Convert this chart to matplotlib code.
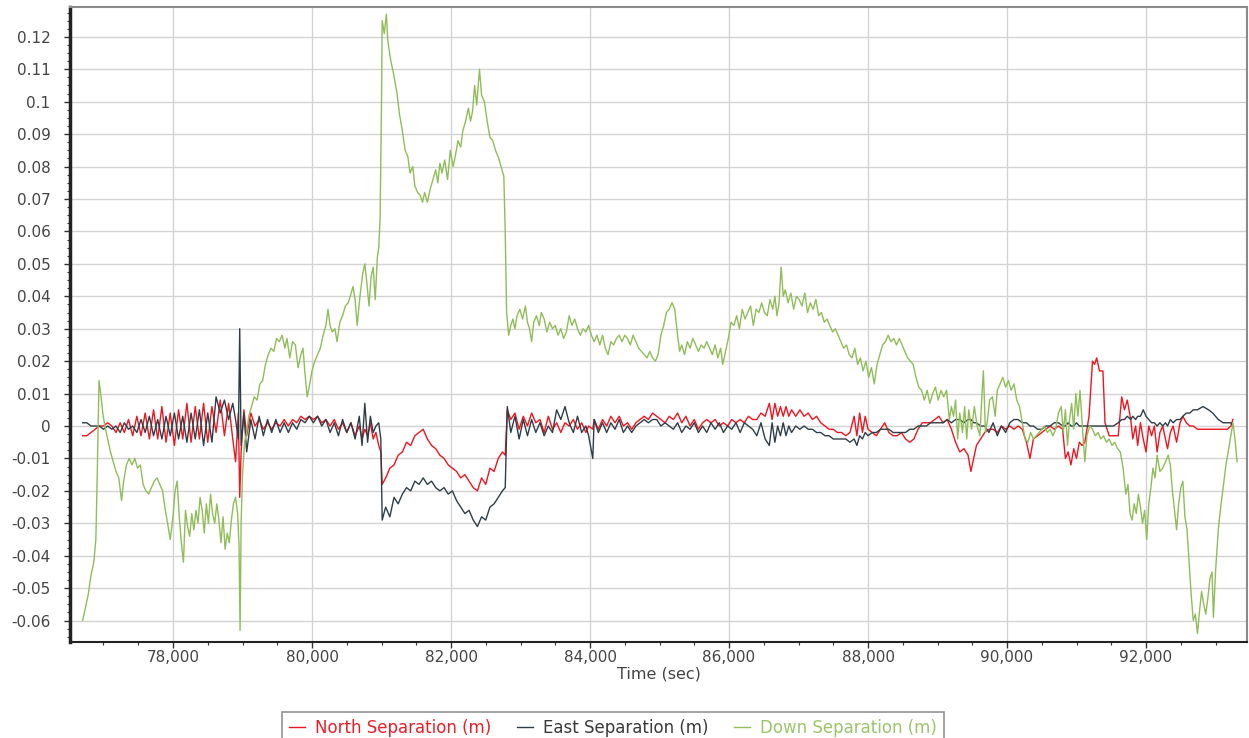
import matplotlib
matplotlib.use("Agg")
import matplotlib.pyplot as plt
from matplotlib.ticker import MultipleLocator, FuncFormatter

# ---------------- data ----------------
ne_time = [
    76700, 76760, 76820, 76880, 76940, 77000, 77060, 77120, 77180, 77240,
    77300, 77360, 77420, 77480, 77540, 77600, 77660, 77720, 77780, 77840,
    77900, 77960, 78020, 78080, 78140, 78200, 78260, 78320, 78380, 78440,
    78500, 78560, 78620, 78680, 78740, 78800, 78860, 78900, 78940, 78960,
    78980, 79020, 79060, 79120, 79180, 79240, 79300, 79360, 79420, 79480,
    79540, 79600, 79660, 79720, 79780, 79840, 79900, 79960, 80020, 80080,
    80140, 80200, 80260, 80320, 80380, 80440, 80500, 80560, 80620, 80680,
    80720, 80760, 80800, 80840, 80880, 80920, 80960, 80990, 81010, 81060,
    81120, 81180, 81240, 81300, 81360, 81420, 81480, 81540, 81600, 81660,
    81720, 81780, 81840, 81900, 81960, 82020, 82080, 82140, 82200, 82260,
    82320, 82380, 82440, 82500, 82560, 82620, 82680, 82740, 82780, 82810,
    82860, 82920, 82980, 83040, 83100, 83160, 83220, 83280, 83340, 83400,
    83460, 83520, 83580, 83640, 83700, 83760, 83820, 83880, 83940, 83980,
    84040, 84060, 84120, 84180, 84240, 84300, 84360, 84420, 84480, 84540,
    84600, 84660, 84720, 84780, 84840, 84900, 84960, 85020, 85080, 85140,
    85200, 85260, 85320, 85380, 85440, 85500, 85560, 85620, 85680, 85740,
    85800, 85860, 85920, 85980, 86040, 86100, 86160, 86220, 86280, 86340,
    86400, 86460, 86520, 86580, 86620, 86660, 86700, 86740, 86780, 86820,
    86860, 86900, 86960, 87020, 87080, 87140, 87200, 87260, 87320, 87380,
    87440, 87500, 87560, 87620, 87680, 87740, 87800, 87840, 87880, 87920,
    87960, 88000, 88060, 88120, 88180, 88240, 88300, 88360, 88420, 88480,
    88540, 88600, 88660, 88720, 88780, 88840, 88900, 88960, 89020, 89080,
    89140, 89200, 89260, 89320, 89380, 89440, 89480, 89520, 89560, 89620,
    89680, 89740, 89800, 89860, 89920, 89980, 90040, 90100, 90160, 90220,
    90280, 90330, 90380, 90440, 90500, 90560, 90620, 90680, 90740, 90800,
    90840, 90880, 90920, 90960, 91000, 91040, 91080, 91120, 91180, 91230,
    91260, 91290, 91330, 91380, 91410, 91470, 91530, 91600, 91650, 91690,
    91730, 91780, 91810, 91850, 91880, 91920, 91960, 92000, 92040, 92080,
    92120, 92160, 92200, 92240, 92280, 92310, 92350, 92390, 92440, 92490,
    92530, 92580, 92630, 92680, 92740, 92820, 92900, 92960, 93040, 93110,
    93170, 93220, 93250,
]

north_sep = [
    -0.003, -0.003, -0.002, -0.001, 0.000, 0.000, 0.001, 0.000, -0.002, 0.001,
    -0.002, 0.002, -0.003, 0.003, -0.003, 0.004, -0.004, 0.005, -0.004, 0.006,
    -0.005, 0.004, -0.006, 0.005, -0.004, 0.007, -0.005, 0.006, -0.004, 0.007,
    -0.005, 0.006, -0.002, 0.008, -0.003, 0.007, -0.004, -0.011, 0.004, -0.022,
    -0.008, 0.005, -0.003, 0.004, 0.000, 0.002, -0.001, 0.001, -0.001, 0.001,
    0.000, 0.002, 0.000, 0.002, 0.001, 0.003, 0.002, 0.003, 0.002, 0.003,
    0.001, 0.002, 0.000, 0.002, -0.001, 0.001, -0.002, 0.001, -0.003, 0.000,
    -0.004, -0.001, -0.003, 0.001, -0.004, -0.002, -0.006, -0.008, -0.018, -0.016,
    -0.013, -0.012, -0.009, -0.008, -0.005, -0.006, -0.003, -0.002, -0.001, -0.004,
    -0.006, -0.007, -0.009, -0.010, -0.012, -0.013, -0.014, -0.016, -0.015, -0.017,
    -0.019, -0.020, -0.016, -0.018, -0.013, -0.014, -0.010, -0.008, -0.009, 0.005,
    0.002, 0.004, -0.001, 0.003, 0.000, 0.004, 0.001, 0.002, -0.002, 0.003,
    -0.001, 0.001, -0.002, 0.001, 0.000, 0.002, -0.001, 0.001, -0.002, 0.000,
    -0.001, 0.002, -0.001, 0.002, 0.000, 0.003, 0.001, 0.003, 0.000, 0.001,
    -0.001, 0.001, 0.002, 0.003, 0.002, 0.004, 0.003, 0.002, 0.001, 0.003,
    0.002, 0.004, 0.001, 0.003, 0.000, 0.002, -0.001, 0.001, 0.002, 0.001,
    0.002, 0.000, 0.001, 0.000, 0.002, 0.001, 0.002, 0.001, 0.003, 0.002,
    0.002, 0.004, 0.003, 0.007, 0.002, 0.007, 0.003, 0.006, 0.003, 0.006,
    0.003, 0.005, 0.003, 0.005, 0.003, 0.004, 0.002, 0.003, 0.001, 0.000,
    -0.001, -0.001, -0.002, -0.002, -0.003, -0.002, 0.003, -0.003, 0.004, -0.002,
    0.003, -0.001, -0.002, -0.003, -0.001, 0.001, -0.002, -0.003, -0.003, -0.002,
    -0.004, -0.005, -0.004, -0.001, 0.001, 0.001, 0.001, 0.002, 0.003, 0.001,
    0.002, -0.001, -0.005, -0.008, -0.007, -0.009, -0.014, -0.010, -0.006, -0.004,
    -0.002, -0.001, -0.001, -0.002, 0.000, -0.001, 0.000, -0.001, 0.000, -0.001,
    -0.005, -0.010, -0.004, -0.003, -0.002, -0.001, 0.000, -0.001, 0.000, -0.001,
    -0.010, -0.008, -0.012, -0.007, -0.010, -0.005, -0.006, -0.005, 0.003, 0.020,
    0.019, 0.021, 0.017, 0.017, 0.001, -0.003, -0.003, -0.003, 0.009, 0.005,
    0.008, 0.002, -0.004, 0.000, -0.006, 0.001, -0.004, -0.008, 0.000, -0.003,
    0.000, -0.008, -0.002, 0.000, -0.004, -0.007, -0.002, 0.000, -0.005, 0.001,
    0.003, 0.001, 0.000, 0.000, -0.001, -0.001, -0.001, -0.001, -0.001, -0.001,
    -0.001, 0.000, 0.002,
]

east_sep = [
    0.001, 0.001, 0.000, 0.000, 0.000, -0.001, 0.000, -0.001, 0.000, -0.002,
    0.001, -0.001, 0.000, -0.002, 0.002, -0.002, 0.003, -0.003, 0.002, -0.004,
    0.003, -0.003, 0.004, -0.004, 0.003, -0.005, 0.004, -0.004, 0.005, -0.006,
    0.004, -0.005, 0.009, 0.004, 0.008, 0.002, 0.007, 0.002, -0.004, 0.030,
    -0.006, 0.004, -0.008, 0.002, -0.004, 0.003, -0.003, 0.002, -0.002, 0.002,
    -0.002, 0.001, -0.002, 0.001, -0.001, 0.002, 0.001, 0.003, 0.001, 0.003,
    0.000, 0.002, -0.002, 0.001, -0.003, 0.002, -0.002, 0.001, -0.004, 0.003,
    -0.006, 0.007, -0.005, 0.003, -0.002, 0.000, 0.001, -0.004, -0.029, -0.025,
    -0.028, -0.022, -0.024, -0.021, -0.019, -0.020, -0.017, -0.018, -0.016, -0.018,
    -0.017, -0.019, -0.020, -0.019, -0.021, -0.020, -0.023, -0.025, -0.027, -0.026,
    -0.029, -0.031, -0.028, -0.029, -0.025, -0.024, -0.022, -0.020, -0.019, 0.006,
    -0.002, 0.003, -0.004, 0.002, -0.003, 0.002, -0.002, 0.001, -0.003, 0.000,
    -0.002, 0.005, 0.002, 0.006, 0.001, -0.002, 0.003, -0.002, 0.000, -0.003,
    -0.010, 0.002, -0.002, 0.001, -0.002, 0.001, -0.001, 0.002, -0.002, 0.000,
    -0.002, 0.000, 0.001, 0.002, 0.001, 0.002, 0.002, 0.000, 0.001, 0.000,
    -0.001, 0.001, -0.002, 0.000, -0.001, 0.001, -0.002, 0.000, -0.002, 0.001,
    -0.001, 0.001, -0.002, 0.000, -0.001, 0.001, -0.002, 0.001, 0.000, -0.001,
    -0.003, 0.001, -0.004, -0.006, 0.001, -0.005, 0.000, -0.003, 0.001, -0.003,
    0.000, -0.002, 0.000, -0.001, 0.000, -0.001, -0.001, -0.002, -0.002, -0.003,
    -0.003, -0.004, -0.004, -0.004, -0.004, -0.005, -0.004, -0.006, -0.003, -0.004,
    -0.002, -0.003, -0.002, -0.002, -0.001, -0.001, -0.001, -0.002, -0.002, -0.002,
    -0.002, -0.001, -0.001, 0.000, 0.000, 0.000, 0.001, 0.001, 0.001, 0.001,
    0.002, 0.001, 0.002, 0.002, 0.001, 0.002, 0.002, 0.001, 0.001, 0.000,
    0.000, -0.002, 0.001, -0.003, 0.000, -0.002, 0.001, 0.002, 0.002, 0.001,
    0.001, 0.000, 0.000, -0.001, -0.001, 0.000, 0.000, 0.001, 0.001, 0.000,
    0.000, 0.001, 0.000, 0.000, 0.001, 0.000, 0.000, 0.000, 0.000, 0.000,
    0.000, 0.000, 0.000, 0.000, 0.000, 0.000, 0.000, 0.001, 0.002, 0.002,
    0.003, 0.002, 0.003, 0.002, 0.003, 0.003, 0.005, 0.003, 0.002, 0.001,
    0.001, 0.000, 0.001, 0.000, 0.001, 0.000, 0.002, 0.001, 0.002, 0.002,
    0.003, 0.004, 0.004, 0.005, 0.005, 0.006, 0.005, 0.004, 0.002, 0.001,
    0.001, 0.001, 0.000,
]

down_time = [
    76700, 76740, 76780, 76820, 76860, 76890, 76910, 76935, 76960, 76990,
    77020, 77060, 77100, 77140, 77180, 77220, 77260, 77290, 77330, 77370,
    77410, 77450, 77490, 77530, 77570, 77610, 77650, 77690, 77730, 77770,
    77810, 77850, 77890, 77930, 77960, 78000, 78030, 78060, 78090, 78120,
    78150, 78180, 78210, 78240, 78270, 78300, 78330, 78360, 78390, 78420,
    78450, 78480, 78510, 78540, 78570, 78600, 78630, 78660, 78690, 78720,
    78750, 78780, 78810, 78840, 78870, 78900, 78930, 78950, 78965, 78980,
    79000, 79030, 79060, 79090, 79130, 79170, 79210, 79250, 79290, 79330,
    79370, 79410, 79450, 79490, 79530, 79570, 79610, 79640, 79680, 79720,
    79760, 79800, 79840, 79870, 79900, 79930, 79960, 80000, 80040, 80080,
    80120, 80160, 80200, 80230, 80260, 80290, 80330, 80360, 80400, 80440,
    80480, 80520, 80550, 80590, 80620, 80650, 80690, 80730, 80760, 80790,
    80820, 80850, 80880, 80910, 80940, 80960, 80980, 81000, 81010, 81040,
    81070, 81090, 81130, 81170, 81220, 81260, 81300, 81340, 81380, 81410,
    81450, 81480, 81520, 81560, 81590, 81620, 81660, 81700, 81740, 81780,
    81810, 81840, 81870, 81910, 81950, 81990, 82030, 82060, 82100, 82140,
    82170, 82210, 82250, 82280, 82310, 82340, 82370, 82410, 82440, 82480,
    82520, 82560, 82600, 82640, 82680, 82720, 82760, 82780, 82800, 82830,
    82860, 82890, 82920, 82950, 82990, 83030, 83070, 83100, 83130, 83160,
    83190, 83230, 83270, 83300, 83340, 83380, 83420, 83460, 83500, 83540,
    83580, 83620, 83660, 83700, 83740, 83780, 83820, 83860, 83900, 83940,
    83980, 84020, 84060, 84100, 84140, 84180, 84220, 84260, 84300, 84340,
    84380, 84420, 84460, 84500, 84540, 84580, 84620, 84660, 84700, 84740,
    84780, 84820, 84860, 84900, 84940, 84980, 85020, 85060, 85100, 85140,
    85180, 85220, 85260, 85290, 85320, 85360, 85400, 85440, 85480, 85520,
    85560, 85600, 85640, 85680, 85720, 85760, 85800, 85840, 85880, 85910,
    85950, 85990, 86030, 86070, 86110, 86150, 86190, 86230, 86270, 86310,
    86350, 86390, 86430, 86470, 86510, 86550, 86590, 86630, 86660, 86690,
    86720, 86750, 86780, 86810, 86850, 86890, 86930, 86970, 87010, 87050,
    87090, 87130, 87170, 87210, 87250, 87290, 87330, 87370, 87410, 87450,
    87490, 87530, 87570, 87610, 87650, 87690, 87730, 87770, 87810, 87850,
    87890, 87930, 87970, 88010, 88050, 88090, 88130, 88170, 88210, 88250,
    88290, 88330, 88370, 88410, 88450, 88490, 88530, 88570, 88610, 88650,
    88690, 88730, 88770, 88810, 88850, 88890, 88930, 88970, 89010, 89050,
    89090, 89130, 89170, 89200, 89230, 89260, 89290, 89320, 89360, 89390,
    89420, 89450, 89490, 89530, 89570, 89610, 89640, 89660, 89690, 89720,
    89750, 89790, 89830, 89860, 89900, 89940, 89980, 90020, 90060, 90100,
    90140, 90180, 90220, 90260, 90300, 90340, 90380, 90420, 90460, 90500,
    90540, 90580, 90620, 90660, 90700, 90740, 90780, 90810, 90840, 90870,
    90900, 90930, 90960, 90990, 91020, 91050, 91090, 91120, 91150, 91190,
    91230, 91270, 91310, 91350, 91390, 91430, 91470, 91510, 91550, 91590,
    91630, 91670, 91710, 91740, 91770, 91800, 91830, 91860, 91890, 91920,
    91950, 91980, 92010, 92040, 92070, 92100, 92130, 92160, 92200, 92240,
    92280, 92320, 92350, 92380, 92410, 92440, 92470, 92500, 92530, 92560,
    92590, 92620, 92650, 92680, 92710, 92740, 92770, 92800, 92830, 92860,
    92890, 92920, 92950, 92970, 93000, 93040, 93080, 93110, 93150, 93190,
    93220, 93250, 93280, 93310,
]

down_sep = [
    -0.060, -0.056, -0.052, -0.046, -0.042, -0.035, -0.015, 0.014, 0.010, 0.004,
    0.000, -0.004, -0.008, -0.011, -0.014, -0.016, -0.023, -0.017, -0.012, -0.010,
    -0.012, -0.010, -0.013, -0.012, -0.018, -0.020, -0.021, -0.019, -0.017, -0.016,
    -0.018, -0.020, -0.026, -0.031, -0.035, -0.028, -0.020, -0.017, -0.028, -0.036,
    -0.042, -0.026, -0.031, -0.034, -0.027, -0.032, -0.026, -0.030, -0.022, -0.026,
    -0.033, -0.024, -0.030, -0.021, -0.027, -0.030, -0.024, -0.029, -0.036, -0.028,
    -0.038, -0.033, -0.036, -0.029, -0.024, -0.022, -0.027, -0.037, -0.063, -0.030,
    -0.015, -0.005, -0.002, 0.003, 0.006, 0.009, 0.008, 0.013, 0.014, 0.019,
    0.022, 0.024, 0.023, 0.027, 0.026, 0.028, 0.024, 0.027, 0.021, 0.026,
    0.025, 0.018, 0.022, 0.024, 0.016, 0.009, 0.012, 0.017, 0.020, 0.022,
    0.024, 0.028, 0.031, 0.036, 0.031, 0.029, 0.030, 0.026, 0.032, 0.034,
    0.037, 0.038, 0.040, 0.043, 0.039, 0.031, 0.040, 0.047, 0.050, 0.044,
    0.037, 0.046, 0.049, 0.039, 0.052, 0.055, 0.064, 0.100, 0.125, 0.121,
    0.127, 0.119, 0.113, 0.109, 0.103, 0.096, 0.091, 0.085, 0.083, 0.078,
    0.080, 0.074, 0.072, 0.071, 0.069, 0.072, 0.069, 0.073, 0.076, 0.079,
    0.075, 0.081, 0.078, 0.082, 0.076, 0.085, 0.080, 0.083, 0.088, 0.086,
    0.091, 0.094, 0.098, 0.094, 0.097, 0.105, 0.099, 0.110, 0.102, 0.100,
    0.094, 0.089, 0.088, 0.085, 0.083, 0.080, 0.077, 0.060, 0.035, 0.028,
    0.031, 0.033, 0.030, 0.034, 0.036, 0.033, 0.037, 0.032, 0.030, 0.026,
    0.032, 0.034, 0.031, 0.035, 0.033, 0.029, 0.032, 0.030, 0.031, 0.028,
    0.030, 0.027, 0.029, 0.034, 0.031, 0.033, 0.030, 0.028, 0.030, 0.029,
    0.031, 0.028, 0.026, 0.028, 0.025, 0.028, 0.024, 0.022, 0.026, 0.025,
    0.027, 0.028, 0.026, 0.028, 0.027, 0.025, 0.028, 0.026, 0.024, 0.023,
    0.022, 0.021, 0.023, 0.021, 0.020, 0.022, 0.028, 0.031, 0.035, 0.036,
    0.038, 0.036, 0.028, 0.023, 0.025, 0.022, 0.026, 0.024, 0.027, 0.025,
    0.023, 0.025, 0.024, 0.026, 0.024, 0.022, 0.025, 0.021, 0.024, 0.019,
    0.023, 0.027, 0.032, 0.031, 0.034, 0.030, 0.036, 0.033, 0.035, 0.037,
    0.031, 0.036, 0.035, 0.038, 0.035, 0.034, 0.039, 0.036, 0.040, 0.034,
    0.038, 0.049, 0.040, 0.042, 0.038, 0.041, 0.036, 0.040, 0.039, 0.037,
    0.041, 0.035, 0.038, 0.036, 0.039, 0.034, 0.035, 0.032, 0.033, 0.031,
    0.029, 0.030, 0.028, 0.026, 0.024, 0.025, 0.022, 0.021, 0.024, 0.019,
    0.021, 0.017, 0.020, 0.015, 0.018, 0.013, 0.019, 0.022, 0.025, 0.026,
    0.028, 0.026, 0.027, 0.025, 0.027, 0.025, 0.023, 0.021, 0.020, 0.019,
    0.015, 0.012, 0.011, 0.008, 0.011, 0.007, 0.010, 0.012, 0.008, 0.011,
    0.009, 0.011, 0.002, 0.006, 0.003, 0.008, -0.004, 0.004, -0.002, 0.006,
    -0.004, 0.005, -0.001, 0.006, 0.000, -0.003, 0.010, 0.017, -0.002, 0.002,
    0.008, 0.009, 0.003, 0.011, 0.013, 0.015, 0.012, 0.014, 0.011, 0.013,
    0.008, 0.006, 0.001, -0.004, -0.005, -0.002, -0.004, -0.003, -0.002, -0.001,
    0.000, -0.002, -0.001, -0.003, -0.001, 0.004, 0.006, -0.002, 0.005, -0.006,
    0.002, 0.007, -0.001, 0.010, 0.003, 0.011, -0.002, -0.011, -0.003, 0.000,
    -0.001, -0.003, -0.002, -0.004, -0.003, -0.005, -0.004, -0.006, -0.005, -0.007,
    -0.008, -0.013, -0.021, -0.018, -0.027, -0.029, -0.024, -0.027, -0.021, -0.025,
    -0.030, -0.026, -0.035, -0.024, -0.019, -0.013, -0.016, -0.009, -0.014, -0.013,
    -0.011, -0.009, -0.012, -0.020, -0.026, -0.032, -0.024, -0.019, -0.017, -0.028,
    -0.032, -0.042, -0.052, -0.060, -0.058, -0.064, -0.057, -0.051, -0.055, -0.058,
    -0.053, -0.047, -0.045, -0.059, -0.045, -0.032, -0.024, -0.019, -0.012, -0.007,
    -0.003, 0.001, -0.004, -0.011,
]

series_labels = ["North Separation (m)", "East Separation (m)", "Down Separation (m)"]
x_label = "Time (sec)"

# ---------------- figure ----------------
W, H = 1249, 738
fig = plt.figure(figsize=(W / 100, H / 100), dpi=100)
ax = fig.add_axes([70 / W, 1 - 642 / H, (1247 - 70) / W, (642 - 7) / H])

c_north = "#f0141e"
c_east = "#2f3e46"
c_down = "#90bd58"

l1, = ax.plot(ne_time, north_sep, color=c_north, lw=1.0, zorder=3)
l2, = ax.plot(ne_time, east_sep, color=c_east, lw=1.0, zorder=4)
l3, = ax.plot(down_time, down_sep, color=c_down, lw=1.0, zorder=5)

ax.set_xlim(76518, 93453)
ax.set_ylim(-0.0666, 0.1292)

ax.xaxis.set_major_locator(MultipleLocator(2000))
ax.xaxis.set_minor_locator(MultipleLocator(500))
ax.yaxis.set_major_locator(MultipleLocator(0.01))
ax.yaxis.set_minor_locator(MultipleLocator(0.0025))
ax.xaxis.set_major_formatter(FuncFormatter(lambda v, p: "{:,.0f}".format(v)))


def yfmt(v, p):
    r = round(v, 3)
    if abs(r) < 1e-9:
        return "0"
    return "{:g}".format(r)


ax.yaxis.set_major_formatter(FuncFormatter(yfmt))

ax.grid(True, which="major", color="#d3d3d3", lw=1.0, zorder=0)
ax.set_axisbelow(True)

ax.tick_params(axis="both", which="major", direction="out", length=4, width=1,
               color="#333333", labelsize=11, labelcolor="#444444")
ax.tick_params(axis="both", which="minor", direction="out", length=2, width=0.8,
               color="#333333")
ax.tick_params(axis="y", which="major", pad=10)
ax.tick_params(axis="x", which="major", pad=1.5)

for side in ("top", "right"):
    ax.spines[side].set_color("#8a8a8a")
    ax.spines[side].set_linewidth(1.5)
ax.spines["left"].set_color("#222222")
ax.spines["left"].set_linewidth(2.5)
ax.spines["bottom"].set_color("#222222")
ax.spines["bottom"].set_linewidth(1.5)

ax.set_xlabel(x_label, fontsize=11.5, color="#444444", labelpad=1)

leg = fig.legend([l1, l2, l3], series_labels, loc="upper center",
                 bbox_to_anchor=(613 / W, 1 - 712 / H), ncol=3, frameon=True,
                 fancybox=False, edgecolor="#777777", fontsize=12,
                 handlelength=1.0, handletextpad=0.6, columnspacing=1.5,
                 borderpad=0.4, borderaxespad=0)
leg.get_frame().set_linewidth(1.2)
for txt, col in zip(leg.get_texts(), ["#e8202a", "#3a3a3a", "#9cc46a"]):
    txt.set_color(col)

fig.savefig("out.png", dpi=100)
